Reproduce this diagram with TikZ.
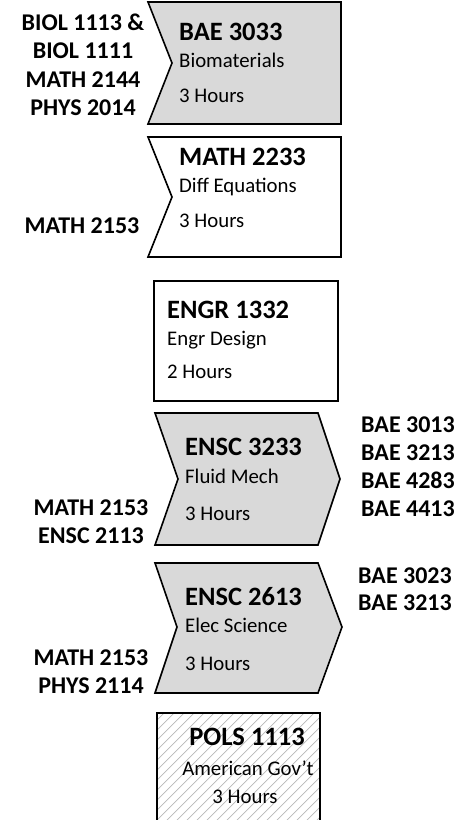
\documentclass[tikz,border=0pt]{standalone}
\usepackage{fontspec}
\setmainfont{Carlito}
\definecolor{boxgray}{HTML}{D9D9D9}
\definecolor{hatch}{HTML}{B8B8B8}
\tikzset{
  shp/.style={draw=black, line width=1.6pt, line join=miter},
  grayshp/.style={shp, fill=boxgray},
  whiteshp/.style={shp, fill=white},
  ttl/.style={font=\bfseries\fontsize{26.5}{30}\selectfont, inner sep=0pt, anchor=base west},
  sub/.style={font=\fontsize{20.8}{24}\selectfont, inner sep=0pt, anchor=base west},
  lbl/.style={font=\bfseries\fontsize{24}{28}\selectfont, inner sep=0pt, anchor=base},
}
\begin{document}
\begin{tikzpicture}[x=1pt,y=-1pt]
\clip (0,0) rectangle (474,820);
\fill[white] (0,0) rectangle (474,820);

% Box 1
\draw[grayshp] (148,2) -- (341,2) -- (341,124) -- (148,124) -- (172,63) -- cycle;
\node[ttl] (t1) at (179,40) {BAE 3033};
\node[sub] (s1) at (179,67) {Biomaterials};
\node[sub] (h1) at (179,102) {3 Hours};
\node[lbl] (l1a) at (83,30) {BIOL 1113 \&};
\node[lbl] (l1b) at (83,58) {BIOL 1111};
\node[lbl] (l1c) at (83,87) {MATH 2144};
\node[lbl] (l1d) at (83,115) {PHYS 2014};

% Box 2
\draw[whiteshp] (148,137) -- (341,137) -- (341,257) -- (148,257) -- (172,197) -- cycle;
\node[ttl] (t2) at (179,165) {MATH 2233};
\node[sub] (s2) at (179,192) {Diff Equations};
\node[sub] (h2) at (179,227) {3 Hours};
\node[lbl] (l2a) at (82,233) {MATH 2153};

% Box 3
\draw[whiteshp] (154,281) rectangle (338,401);
\node[ttl] (t3) at (167,318) {ENGR 1332};
\node[sub] (s3) at (167,345) {Engr Design};
\node[sub] (h3) at (167,378) {2 Hours};

% Box 4
\draw[grayshp] (155,413) -- (318,413) -- (340,479) -- (318,545) -- (155,545) -- (178,479) -- cycle;
\node[ttl] (t4) at (185,455) {ENSC 3233};
\node[sub] (s4) at (185,483) {Fluid Mech};
\node[sub] (h4) at (185,520) {3 Hours};
\node[lbl] (l4a) at (91,515) {MATH 2153};
\node[lbl] (l4b) at (91,543) {ENSC 2113};
\node[lbl] (r4a) at (408,432) {BAE 3013};
\node[lbl] (r4b) at (408,460) {BAE 3213};
\node[lbl] (r4c) at (408,488) {BAE 4283};
\node[lbl] (r4d) at (408,516) {BAE 4413};

% Box 5
\draw[grayshp] (155,563) -- (318,563) -- (342,627) -- (318,693) -- (155,693) -- (177,627) -- cycle;
\node[ttl] (t5) at (185,605) {ENSC 2613};
\node[sub] (s5) at (185,632) {Elec Science};
\node[sub] (h5) at (185,670) {3 Hours};
\node[lbl] (l5a) at (91,665) {MATH 2153};
\node[lbl] (l5b) at (91,693) {PHYS 2114};
\node[lbl] (r5a) at (405,583) {BAE 3023};
\node[lbl] (r5b) at (405,610) {BAE 3213};

% Box 6 (hatched)
\fill[white] (157,713) rectangle (320,840);
\begin{scope}
  \clip (157,713) rectangle (320,840);
  \foreach \k in {0,...,34} {
    \draw[hatch, line width=0.7pt] ({157+10*\k-160},840) -- ({157+10*\k},680);
  }
\end{scope}
\draw[shp] (157,713) rectangle (320,840);
\node[ttl, anchor=base] (t6) at (247,745) {POLS 1113};
\node[sub, anchor=base] (s6) at (248,775) {American Gov’t};
\node[sub, anchor=base] (h6) at (245,803) {3 Hours};
\end{tikzpicture}
\end{document}
